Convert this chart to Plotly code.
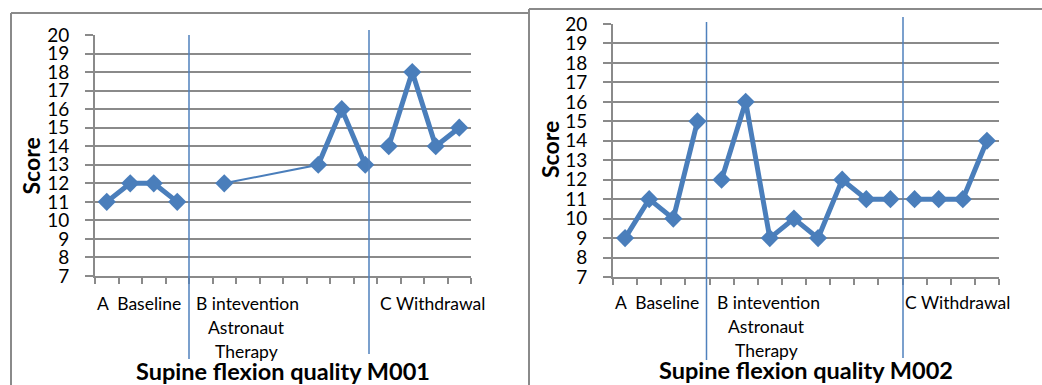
import plotly.graph_objects as go

# ---------------- data ----------------
categories = list(range(16))
m001_A = [11, 12, 12, 11]
m001_B = [None, 12, None, None, None, 13, 16, 13]
m001_C = [14, 18, 14, 15]
m002_A = [9, 11, 10, 15]
m002_B = [12, 16, 9, 10, 9, 12, 11, 11]
m002_C = [11, 11, 11, 14]
phase_labels = ["A  Baseline", "B intevention", "Astronaut", "Therapy", "C Withdrawal"]
titles = ["Supine flexion quality M001", "Supine flexion quality M002"]
y_title = "Score"
y_ticks = list(range(7, 21))

W, H = 1042, 385
BLUE = "#4a7ebb"
GRID = "#8a8a8a"
FONT = "Lato"

def px(x):
    return x / W

def py(y):
    return 1 - y / H

fig = go.Figure()

def add_series(xa, ya, A, B, C):
    xA = categories[0:4]
    xB = categories[4:12]
    xC = categories[12:16]
    # thin connecting line through gaps of phase B
    fig.add_trace(go.Scatter(x=xB, y=B, mode="lines", connectgaps=True,
                             line=dict(color=BLUE, width=2), xaxis=xa, yaxis=ya,
                             showlegend=False, hoverinfo="skip", cliponaxis=False))
    for xs, ys in ((xA, A), (xB, B), (xC, C)):
        fig.add_trace(go.Scatter(x=xs, y=ys, mode="lines+markers", connectgaps=False,
                                 line=dict(color=BLUE, width=5),
                                 marker=dict(symbol="diamond", size=14, color=BLUE),
                                 xaxis=xa, yaxis=ya, showlegend=False, cliponaxis=False))

add_series("x", "y", m001_A, m001_B, m001_C)
add_series("x2", "y2", m002_A, m002_B, m002_C)

xcommon = dict(range=[-0.5, 15.5], tickmode="array",
               tickvals=[c - 0.5 for c in categories] + [15.5],
               ticks="outside", ticklen=6, tickwidth=2, tickcolor=GRID,
               showticklabels=False, showgrid=False, zeroline=False,
               showline=True, linecolor=GRID, linewidth=2, automargin=False)
ycommon = dict(range=[7, 20], tickmode="array", tickvals=y_ticks,
               ticks="outside", ticklen=8, tickwidth=2, tickcolor=GRID,
               showgrid=True, gridcolor=GRID, gridwidth=2, zeroline=False,
               showline=True, linecolor=GRID, linewidth=2, automargin=False,
               tickfont=dict(family=FONT, size=19, color="black"),
               ticklabelstandoff=12)

fig.update_layout(
    width=W, height=H, autosize=False,
    margin=dict(l=0, r=0, t=0, b=0, pad=0, autoexpand=False),
    paper_bgcolor="white", plot_bgcolor="white",
    xaxis=dict(domain=[px(95), px(471)], anchor="y", **xcommon),
    yaxis=dict(domain=[py(276), py(35)], anchor="x", **ycommon),
    xaxis2=dict(domain=[px(613), px(999)], anchor="y2", **xcommon),
    yaxis2=dict(domain=[py(277), py(24)], anchor="x2", **ycommon),
)

shapes = []
line_gray = dict(color=GRID, width=2)
# chart borders
shapes.append(dict(type="line", xref="paper", yref="paper", x0=px(11), x1=px(529), y0=py(13), y1=py(13), line=line_gray))
shapes.append(dict(type="line", xref="paper", yref="paper", x0=px(11), x1=px(11), y0=py(13), y1=0, line=line_gray))
shapes.append(dict(type="line", xref="paper", yref="paper", x0=px(529), x1=px(529), y0=py(9), y1=0, line=line_gray))
shapes.append(dict(type="line", xref="paper", yref="paper", x0=px(529), x1=1, y0=py(9), y1=py(9), line=line_gray))
# phase divider lines
vline = dict(color="#4f81bd", width=1.5)
for x, y0, y1 in ((189, 359, 35), (369, 354, 30), (706.5, 360, 22), (903, 358, 17)):
    shapes.append(dict(type="line", xref="paper", yref="paper", x0=px(x), x1=px(x), y0=py(y0), y1=py(y1), line=vline))
fig.update_layout(shapes=shapes)

ann = []
lab_font = dict(family=FONT, size=17.5, color="black")
def lab(text, x, y, font=lab_font, angle=0):
    ann.append(dict(text=text, xref="paper", yref="paper", x=px(x), y=py(y),
                    xanchor="center", yanchor="middle", showarrow=False,
                    font=font, textangle=angle))

# left chart labels
lab(phase_labels[0], 138.6, 303)
lab(phase_labels[1], 247.6, 303)
lab(phase_labels[2], 246, 327)
lab(phase_labels[3], 246, 351)
lab(phase_labels[4], 432, 303)
# right chart labels
lab(phase_labels[0], 657, 302)
lab(phase_labels[1], 768, 302)
lab(phase_labels[2], 766, 326)
lab(phase_labels[3], 766.5, 350)
lab(phase_labels[4], 957, 302)

bold = dict(family=FONT, size=23.5, color="black", weight="bold")
lab("<b>%s</b>" % titles[0], 283, 371, font=bold)
lab("<b>%s</b>" % titles[1], 806, 370, font=bold)
score_font = dict(family=FONT, size=23, color="black", weight="bold")
lab("<b>%s</b>" % y_title, 30, 166.5, font=score_font, angle=-90)
lab("<b>%s</b>" % y_title, 550, 150, font=score_font, angle=-90)
fig.update_layout(annotations=ann)

fig.write_html("out.html")
